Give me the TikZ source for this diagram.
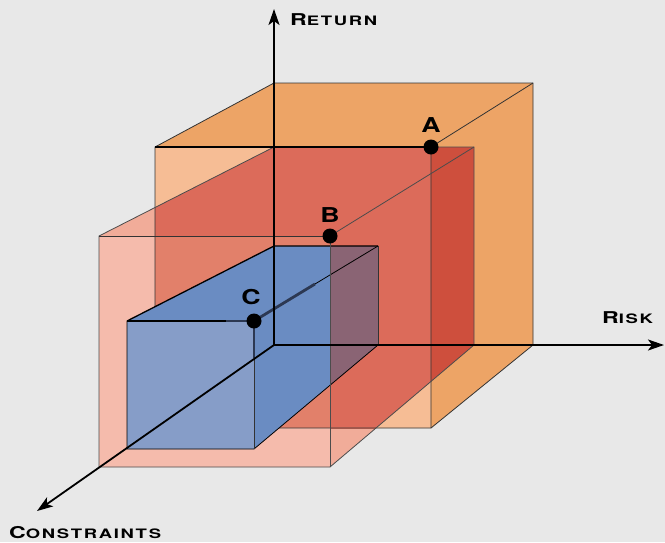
\documentclass[tikz,border=0pt]{standalone}
\usepackage{fontspec}
\newfontfamily\labfont[FakeStretch=1.42,LetterSpace=13]{TeX Gyre Heros}
\newfontfamily\ptfont[FakeStretch=1.3]{TeX Gyre Heros}
\usetikzlibrary{arrows.meta}
\definecolor{bgc}{HTML}{E8E8E8}
\definecolor{orng}{HTML}{EDA466}
\definecolor{paleorng}{HTML}{F6BD95}
\definecolor{redc}{HTML}{DC6B5A}
\definecolor{darkred}{HTML}{CE4F3D}
\definecolor{pinkc}{HTML}{F5BBAC}
\definecolor{pinktop}{HTML}{F1AC99}
\definecolor{salmon}{HTML}{E2806A}
\definecolor{bluec}{HTML}{6A8CC2}
\definecolor{bluefront}{HTML}{869DC8}
\definecolor{purplec}{HTML}{8A6474}
\definecolor{blurc}{HTML}{2C3852}
\newcommand{\smcap}[2]{{\fontsize{16.3}{16}\selectfont #1}{\fontsize{13}{13}\selectfont #2}}
\begin{document}
\begin{tikzpicture}[x=1pt,y=-1pt,
  edge/.style={draw=black!80, line width=0.8pt},
  bedge/.style={draw=black, line width=1.3pt},
  blurline/.style={draw=blurc, line width=2.8pt},
  axis/.style={draw=black, line width=1.8pt, -{Stealth[length=16pt,width=11pt,inset=4pt]}},
  pt/.style={circle, fill=black, inner sep=0pt, minimum size=15pt},
  ptlabel/.style={font=\ptfont\bfseries\fontsize{20.5}{20}\selectfont, inner sep=0pt},
  axlabel/.style={font=\labfont\bfseries, inner sep=0pt, anchor=base west}]
\fill[bgc] (0,0) rectangle (665,542);
\useasboundingbox (0,0) rectangle (665,542);
% coordinates
\coordinate (O) at (274,345);
\coordinate (oBTL) at (274,83);  \coordinate (oBTR) at (533,83);  \coordinate (oBBR) at (533,345);
\coordinate (oFTL) at (155,147); \coordinate (oFTR) at (431,147); \coordinate (oFBR) at (431,428); \coordinate (oFBL) at (155,428);
\coordinate (rBTL) at (274,147); \coordinate (rBTR) at (474,147); \coordinate (rBBR) at (474,345);
\coordinate (rFTL) at (99,236);  \coordinate (rFTR) at (330,236); \coordinate (rFBR) at (330,467); \coordinate (rFBL) at (99,467);
\coordinate (bBTL) at (274,246); \coordinate (bBTR) at (378,246); \coordinate (bBBR) at (378,345);
\coordinate (bFTL) at (127,321); \coordinate (bFTR) at (254,321); \coordinate (bFBR) at (254,449); \coordinate (bFBL) at (127,449);
\coordinate (bFTm) at (196,321); \coordinate (bFTn) at (226,321); \coordinate (bFRm) at (254,358); \coordinate (bDm) at (315,284);
\coordinate (retEnd) at (274,9);
\coordinate (riskEnd) at (664,345);
\coordinate (conEnd) at (37,511);
% orange box fills
\fill[orng] (oBTL) -- (oBTR) -- (oBBR) -- (oFBR) -- (oFBL) -- (oFTL) -- cycle;
\fill[paleorng] (oFTL) rectangle (oFBR);
% red box fills
\fill[pinktop] (rBTL) -- (rBTR) -- (rBBR) -- (rFBR) -- (rFBL) -- (rFTL) -- cycle;
\begin{scope}
  \clip (oFTL) rectangle (oFBR);
  \fill[redc] (rBTL) -- (rBTR) -- (rBBR) -- (rFBR) -- (rFBL) -- (rFTL) -- cycle;
\end{scope}
\begin{scope}
  \clip (431,0) rectangle (665,542);
  \fill[darkred] (rBTL) -- (rBTR) -- (rBBR) -- (rFBR) -- (rFBL) -- (rFTL) -- cycle;
\end{scope}
\fill[pinkc] (rFTL) rectangle (rFBR);
\fill[salmon] (155,236) rectangle (330,428);
% orange edges
\draw[edge] (oBTL) -- (oBTR) -- (oBBR) -- (oFBR) -- (oFBL);
\draw[edge] (oBTL) -- (oFTL) -- (oFBL);
\draw[edge] (oBTR) -- (oFTR) -- (oFBR);
% red edges
\draw[edge, draw=black!70] (oFTR) -- (rBTR) -- (rBBR) -- (rFBR);
\draw[edge, draw=black!70] (rBTL) -- (rFTL) -- (rFBL) -- (rFBR);
\draw[edge, draw=black!70] (rBTR) -- (rFTR);
\draw[edge] (rFTL) -- (rFTR);
\draw[line width=1.7pt] (oFTL) -- (oFTR);
% blue box fills
\fill[bluec] (bBTL) -- (bBTR) -- (bBBR) -- (bFBR) -- (bFBL) -- (bFTL) -- cycle;
\fill[bluefront] (bFTL) rectangle (bFBR);
\fill[purplec] (330,246) -- (bBTR) -- (bBBR) -- (330,385.3) -- cycle;
% blue edges
\draw[bedge] (bFTL) -- (bBTL) -- (bBTR);
\draw[edge] (bBTR) -- (bBBR);
\draw[edge, draw=black] (bBBR) -- (bFBR) -- (bFBL) -- (bFTL);
\draw[edge] (bFBR) -- (bFTR);
\draw[bedge] (bFTL) -- (bFTm);
\draw[draw=black, line width=2pt] (bFTm) -- (bFTn);
\draw[blurline] (bFTn) -- (bFTR);
\draw[blurline] (bFTR) -- (bFRm);
\draw[edge, draw=black] (bBTR) -- (bDm);
\draw[blurline] (bDm) -- (bFTR);
\draw[edge, draw=black!70] (rFTR) -- (rFBR);
% axes
\draw[axis] (O) -- (retEnd);
\draw[axis] (O) -- (riskEnd);
\draw[axis] (O) -- (conEnd);
% points
\node[pt] (A) at (oFTR) {};
\node[pt] (B) at (rFTR) {};
\node[pt] (C) at (bFTR) {};
\node[ptlabel] (Alab) at (431,125.5) {A};
\node[ptlabel] (Blab) at (330,215) {B};
\node[ptlabel] (Clab) at (251,297.5) {C};
% axis labels
\node[axlabel] (retlab) at (290,25) {\smcap{R}{ETURN}};
\node[axlabel] (risklab) at (602,323.5) {\smcap{R}{ISK}};
\node[axlabel] (conlab) at (9,538.5) {\smcap{C}{ONSTRAINTS}};
\end{tikzpicture}
\end{document}
